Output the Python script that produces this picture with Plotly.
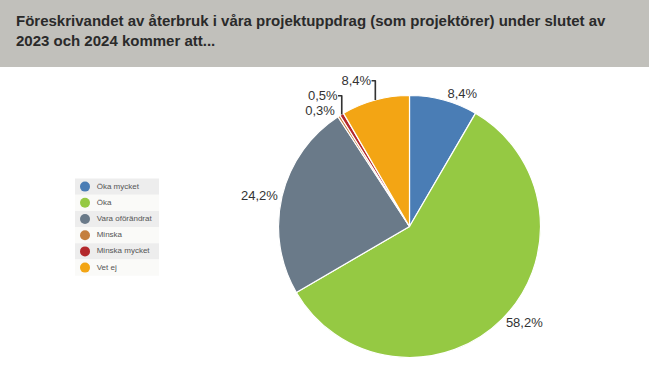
import plotly.graph_objects as go

W, H = 649, 372

categories = ["Öka mycket", "Öka", "Vara oförändrat", "Minska", "Minska mycket", "Vet ej"]
values = [8.4, 58.2, 24.2, 0.3, 0.5, 8.4]
colors = ["#4A7DB5", "#95C943", "#6A7A89", "#C47F3E", "#B3282C", "#F3A514"]
title_lines = ["Föreskrivandet av återbruk i våra projektuppdrag (som projektörer) under slutet av",
               "2023 och 2024 kommer att..."]

cx, cy, r = 409.5, 226.5, 131

fig = go.Figure()

fig.add_trace(go.Pie(
    labels=categories, values=values, sort=False, direction="clockwise", rotation=0,
    marker=dict(colors=colors, line=dict(color="white", width=1.2)),
    texttemplate="%{value:.1f}%", textposition="outside",
    textfont=dict(family="Liberation Sans", size=13, color="#333333"),
    showlegend=False, hoverinfo="label+value",
    domain=dict(x=[(cx - r) / W, (cx + r) / W], y=[(H - cy - r) / H, (H - cy + r) / H]),
))

# manual legend
row_top, row_h = 178.5, 16.2
lx0, lx1 = 75, 159
ys = [row_top + row_h * (i + 0.5) for i in range(len(categories))]
shapes = [dict(type="rect", xref="paper", yref="paper", x0=0, x1=1, y0=1 - 67 / H, y1=1,
               fillcolor="#C1C0BB", line=dict(width=0), layer="below")]
for i in range(len(categories)):
    shapes.append(dict(type="rect", xref="x", yref="y", x0=lx0, x1=lx1,
                       y0=row_top + row_h * i, y1=row_top + row_h * (i + 1),
                       fillcolor="#EDEDED" if i % 2 == 0 else "#FAFAF8",
                       line=dict(width=0), layer="below"))

fig.add_trace(go.Scatter(
    x=[85] * len(categories), y=ys, mode="markers+text",
    marker=dict(color=colors, size=10, line=dict(width=0)),
    text=["  " + c for c in categories], textposition="middle right",
    textfont=dict(family="Liberation Sans", size=8, color="#555555"),
    showlegend=False, hoverinfo="skip", cliponaxis=False,
))

fig.update_layout(
    width=W, height=H, margin=dict(l=0, r=0, t=0, b=0),
    paper_bgcolor="white", plot_bgcolor="rgba(0,0,0,0)",
    separators=",.",
    xaxis=dict(range=[0, W], visible=False, domain=[0, 1], fixedrange=True),
    yaxis=dict(range=[H, 0], visible=False, domain=[0, 1], fixedrange=True),
    shapes=shapes,
    annotations=[dict(
        xref="paper", yref="paper", x=14 / W, y=1 - 10 / H, xanchor="left", yanchor="top",
        align="left", showarrow=False,
        text="<b>" + "<br>".join(title_lines) + "</b>",
        font=dict(family="Liberation Sans Narrow, Liberation Sans", size=15, color="#2A2A2A"),
    )],
)

fig.write_html("out.html", config={"displayModeBar": False},
               post_script="document.body.style.margin='0';")
